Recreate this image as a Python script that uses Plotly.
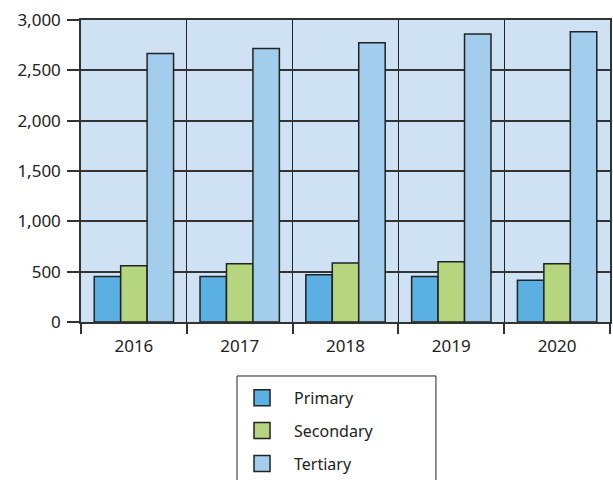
import plotly.graph_objects as go

years = ["2016", "2017", "2018", "2019", "2020"]
primary = [453, 453, 470, 453, 414]
secondary = [559, 578, 585, 598, 578]
tertiary = [2666, 2718, 2775, 2860, 2884]
series_names = ["Primary", "Secondary", "Tertiary"]
colors = ["#5aafe3", "#b5d57f", "#a2cdec"]
y_ticks = [0, 500, 1000, 1500, 2000, 2500, 3000]
y_labels = ["0", "500", "1,000", "1,500", "2,000", "2,500", "3,000"]

FONT = "Noto Sans"
fig = go.Figure()
for name, vals, c in zip(series_names, [primary, secondary, tertiary], colors):
    fig.add_trace(go.Bar(x=years, y=vals, name=name, marker=dict(color=c, line=dict(color="#222222", width=1.5)),
                         showlegend=False))
for name, c in zip(series_names, colors):
    fig.add_trace(go.Scatter(x=[None], y=[None], mode="markers", name=name, legendgroup=name,
                             marker=dict(symbol="square", size=24, color=c, line=dict(color="#222222", width=1.5))))

fig.update_layout(
    width=613, height=480,
    margin=dict(l=81, r=3, t=20, b=158, autoexpand=False),
    paper_bgcolor="white", plot_bgcolor="#cfe2f3",
    barmode="group", bargap=0.25, bargroupgap=0,
    font=dict(family=FONT, size=17, color="#222222"),
    showlegend=True,
    legend=dict(x=0.2817, y=-0.195, xanchor="left", yanchor="top", orientation="v",
                borderwidth=0, bgcolor="rgba(0,0,0,0)",
                font=dict(size=16), itemsizing="trace", itemwidth=54, tracegroupgap=9),
    shapes=[dict(type="rect", xref="paper", yref="paper", x0=0.2949, x1=0.671, y0=-0.56, y1=-0.1788,
                 line=dict(color="#222222", width=1), fillcolor="rgba(0,0,0,0)", layer="above")],
)
fig.update_xaxes(tickson="boundaries", ticks="outside", ticklen=10, tickcolor="#333333", tickwidth=1.5,
                 showgrid=True, gridcolor="#222222", gridwidth=1,
                 showline=True, linecolor="#333333", linewidth=1.5, mirror=True,
                 tickfont=dict(size=17), ticklabelstandoff=8)
fig.update_yaxes(range=[0, 3000], tickvals=y_ticks, ticktext=y_labels, ticks="outside", ticklen=12,
                 tickcolor="#333333", tickwidth=1.5, showgrid=True, gridcolor="#333333", gridwidth=1.5,
                 showline=True, linecolor="#333333", linewidth=1.5, mirror=True, zeroline=False,
                 tickfont=dict(size=17), ticklabelstandoff=3)
fig.write_html("out.html", config={"displayModeBar": False},
               post_script="document.body.style.margin='0';")
